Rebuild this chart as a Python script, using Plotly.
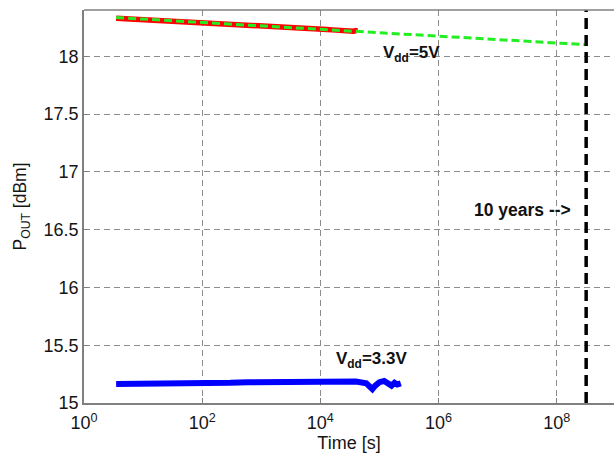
import plotly.graph_objects as go

# Measured output power, Vdd = 5 V
t_5v = [3.5, 6.3, 10, 20, 40, 100, 200, 400, 800, 1300, 2000, 3200, 5000,
        8000, 1e4, 1.3e4, 1.6e4, 2e4, 2.5e4, 3.2e4, 3.6e4, 4e4, 4.2e4]
p_5v = [18.328, 18.322, 18.316, 18.306, 18.297, 18.286, 18.277, 18.27,
        18.265, 18.26, 18.258, 18.25, 18.245, 18.238, 18.237, 18.232, 18.228,
        18.222, 18.218, 18.212, 18.216, 18.221, 18.217]

# Log-linear extrapolation of the 5 V data out to ten years
t_fit = [3.5, 3.1536e8]
p_fit = [18.335, 18.10]

# Measured output power, Vdd = 3.3 V
t_33v = [3.5, 10, 30, 40, 60, 80, 100, 150, 300, 600, 1000, 2000, 5000, 1e4,
         2e4, 4e4, 6e4, 7e4, 7.6e4, 8.5e4, 1.0e5, 1.2e5, 1.4e5, 1.6e5, 1.8e5,
         2.0e5, 2.3e5]
p_33v = [15.165, 15.165, 15.165, 15.17, 15.175, 15.17, 15.17, 15.175, 15.175,
         15.18, 15.18, 15.18, 15.185, 15.19, 15.185, 15.185, 15.17, 15.14,
         15.12, 15.15, 15.18, 15.19, 15.17, 15.15, 15.175, 15.16, 15.17]

ten_years = 3.1536e8
x_ticks = [1, 1e2, 1e4, 1e6, 1e8]
x_ticktext = ["10<sup>0</sup>", "10<sup>2</sup>", "10<sup>4</sup>",
              "10<sup>6</sup>", "10<sup>8</sup>"]
y_ticks = [15, 15.5, 16, 16.5, 17, 17.5, 18]
y_ticktext = ["15", "15.5", "16", "16.5", "17", "17.5", "18"]

FONT = "Liberation Sans, Arial, sans-serif"

fig = go.Figure()
fig.add_trace(go.Scatter(x=t_5v, y=p_5v, mode="lines",
                         line=dict(color="#ff0000", width=5.5)))
fig.add_trace(go.Scatter(x=t_fit, y=p_fit, mode="lines",
                         line=dict(color="#22ee22", width=3, dash="8px,4px")))
fig.add_trace(go.Scatter(x=t_33v, y=p_33v, mode="lines",
                         line=dict(color="#0000ff", width=6)))
fig.add_trace(go.Scatter(x=[ten_years, ten_years], y=[15, 18.4], mode="lines",
                         line=dict(color="black", width=3.5, dash="11px,6px")))

fig.add_annotation(x=5.55, y=18.02, xref="x", yref="y", showarrow=False,
                   text="<b>V<sub>dd</sub>=5V</b>", xanchor="center",
                   font=dict(family=FONT, size=17, color="#111111"))
fig.add_annotation(x=4.87, y=15.37, xref="x", yref="y", showarrow=False,
                   text="<b>V<sub>dd</sub>=3.3V</b>", xanchor="center",
                   font=dict(family=FONT, size=17, color="#111111"))
fig.add_annotation(x=8.28, y=16.67, xref="x", yref="y", showarrow=False,
                   text="<b>10 years --></b>", xanchor="right",
                   font=dict(family=FONT, size=17.5, color="#111111"))

# top frame line (the right side is cut off)
fig.add_shape(type="line", xref="paper", yref="paper", x0=0, x1=1, y0=1, y1=1,
              line=dict(color="#808080", width=1.5))

fig.update_layout(
    width=614, height=456,
    margin=dict(l=84, r=0, t=10, b=53),
    paper_bgcolor="white", plot_bgcolor="white",
    showlegend=False,
    font=dict(family=FONT, size=18, color="#151515"),
)
fig.update_xaxes(
    type="log", range=[0, 8.97],
    tickvals=x_ticks, ticktext=x_ticktext,
    showgrid=True, gridcolor="#8c8c8c", gridwidth=1, griddash="6px,4px",
    showline=True, linecolor="#808080", linewidth=1.5,
    ticks="inside", ticklen=5, tickcolor="#808080",
    ticklabelstandoff=3,
    zeroline=False,
    title=dict(text="Time [s]", standoff=0, font=dict(size=18)),
)
fig.update_yaxes(
    range=[15, 18.4],
    tickvals=y_ticks, ticktext=y_ticktext,
    showgrid=True, gridcolor="#8c8c8c", gridwidth=1, griddash="6px,4px",
    showline=True, linecolor="#808080", linewidth=1.5,
    ticks="inside", ticklen=5, tickcolor="#808080",
    zeroline=False,
    title=dict(text="P<sub>OUT</sub> [dBm]", standoff=12, font=dict(size=17.5)),
)

fig.write_html("out.html")
